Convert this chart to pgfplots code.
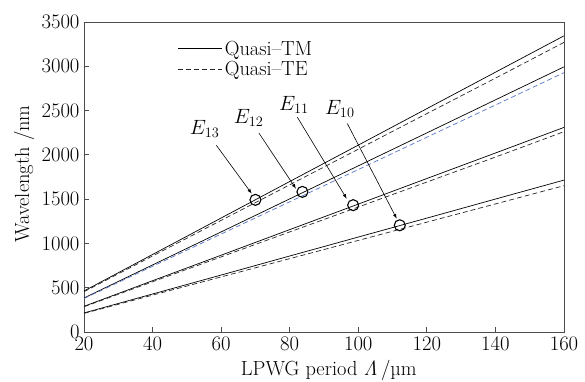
\documentclass[border=0pt]{standalone}
\usepackage{pgfplots}
\pgfplotsset{compat=1.18}
\definecolor{tegblue}{RGB}{85,115,200}
\begin{document}
\begin{tikzpicture}
\begin{axis}[
  scale only axis,
  width=480bp, height=310bp,
  xmin=20, xmax=160, ymin=0, ymax=3500,
  xtick={20,40,...,160}, ytick={0,500,...,3500},
  /pgf/number format/1000 sep={},
  tick align=inside, tick pos=left,
  major tick length=5bp,
  axis line style={draw=black!70, line width=0.8pt},
  tick style={draw=black!70, line width=0.8pt},
  ticklabel style={font=\fontsize{20.5}{22}\selectfont},
  label style={font=\fontsize{20.5}{22}\selectfont},
  xlabel={LPWG period $\mathit{\Lambda}$\,/µm},
  ylabel={Wavelength /nm},
  xlabel style={at={(axis description cs:0.51,-0.125)}, anchor=center},
  ylabel style={at={(axis description cs:-0.125,0.51)}, anchor=center},
  xticklabel style={yshift=-2bp},
  yticklabel style={xshift=-1bp},
  legend style={at={(axis cs:47.4,3081)}, anchor=west, draw=none, fill=none,
    font=\fontsize{20.5}{22}\selectfont, row sep=1bp, inner sep=0bp},
  legend cell align=left,
  legend image code/.code={\draw[#1] (0bp,0bp) -- (44bp,0bp);},
  clip=true,
]
% top pair (E13)
\addplot[black, line width=0.7pt] coordinates {(20,463) (40,875) (60,1287) (80,1699) (100,2110) (120,2522) (140,2933) (160,3344)};
\addlegendentry{Quasi--TM}
\addplot[black!85, line width=0.7pt, dash pattern=on 5bp off 3bp] coordinates {(20,455) (40,858) (60,1260) (80,1662) (100,2064) (120,2466) (140,2866) (160,3270)};
\addlegendentry{Quasi--TE}
% second pair (E12)
\addplot[black, line width=0.7pt, forget plot] coordinates {(20,384) (40,757) (60,1130) (80,1503) (100,1876) (120,2248) (140,2621) (160,2994)};
\addplot[tegblue, line width=0.7pt, dash pattern=on 5bp off 3bp, forget plot] coordinates {(20,378) (40,742) (60,1106) (80,1470) (100,1834) (120,2199) (140,2563) (160,2928)};
% third pair (E11)
\addplot[black, line width=0.7pt, forget plot] coordinates {(20,290) (40,579) (60,867) (80,1156) (100,1444) (120,1733) (140,2021) (160,2310)};
\addplot[black!85, line width=0.7pt, dash pattern=on 5bp off 3bp, forget plot] coordinates {(20,285) (40,567) (60,848) (80,1130) (100,1411) (120,1693) (140,1975) (160,2262)};
% fourth pair (E10)
\addplot[black, line width=0.7pt, forget plot] coordinates {(20,215) (40,429) (60,643) (80,858) (100,1072) (120,1286) (140,1501) (160,1715)};
\addplot[black!85, line width=0.7pt, dash pattern=on 5bp off 3bp, forget plot] coordinates {(20,210) (40,416) (60,622) (80,828) (100,1034) (120,1240) (140,1446) (160,1652)};
% circles
\addplot[only marks, mark=o, mark size=5.5bp, black, line width=1.1pt, forget plot] coordinates {(70,1492) (83.7,1582) (98.5,1432) (112.1,1205)};
% annotation arrows
\draw[black, line width=0.6pt, -latex] (axis cs:58.6,2108) -- (axis cs:68.9,1563);
\draw[black, line width=0.6pt, -latex] (axis cs:71.0,2247) -- (axis cs:81.8,1619);
\draw[black, line width=0.6pt, -latex] (axis cs:82.2,2427) -- (axis cs:96.6,1506);
\draw[black, line width=0.6pt, -latex] (axis cs:96.8,2353) -- (axis cs:111.2,1280);
\node[font=\fontsize{20.5}{22}\selectfont] at (axis cs:55.2,2290) {$E_{13}$};
\node[font=\fontsize{20.5}{22}\selectfont] at (axis cs:68.0,2412) {$E_{12}$};
\node[font=\fontsize{20.5}{22}\selectfont] at (axis cs:81.2,2560) {$E_{11}$};
\node[font=\fontsize{20.5}{22}\selectfont] at (axis cs:94.6,2522) {$E_{10}$};
\end{axis}
\pgfresetboundingbox
\path[use as bounding box] (current axis.south west) ++(-84bp,-50bp) rectangle ([xshift=21bp,yshift=22bp]current axis.north east);
\end{tikzpicture}
\end{document}
